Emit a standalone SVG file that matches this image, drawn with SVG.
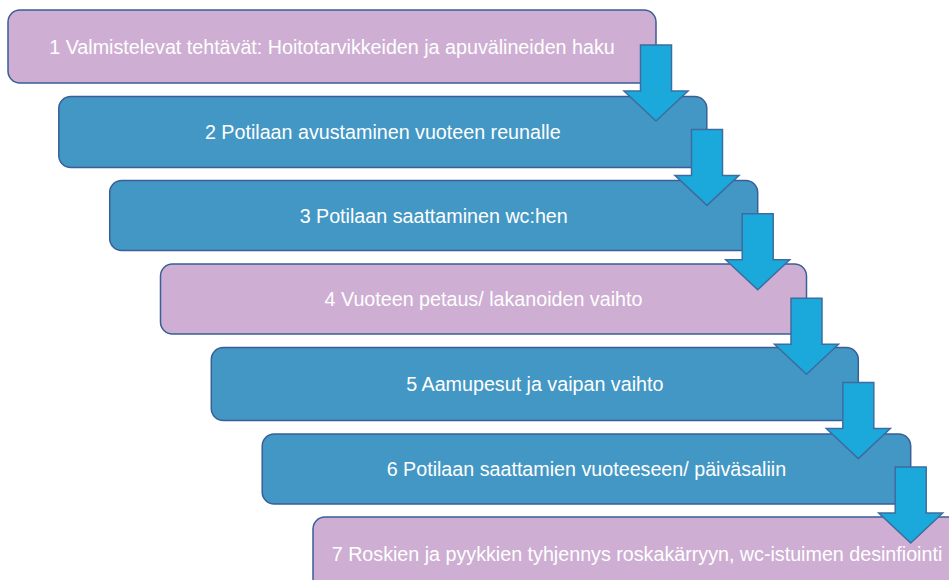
<svg xmlns="http://www.w3.org/2000/svg" width="949" height="580" viewBox="0 0 949 580">
  <style>
    .box { stroke: #3A5E96; stroke-width: 1.5; }
    .pink { fill: #CEAFD3; }
    .blue { fill: #4397C4; }
    .lbl { font-family: "Liberation Sans", Arial, sans-serif; font-size: 19.7px; fill: #FFFFFF; text-anchor: middle; }
    .arrow { fill: #1BA9DB; stroke: #3E6CA0; stroke-width: 1.5; stroke-linejoin: miter; }
  </style>
  <defs>
    <!-- down arrow, origin at the top centre of the shaft -->
    <path id="down" class="arrow" d="M -15.5 0 H 15.5 V 46 H 32 L 0 76 L -32 46 H -15.5 Z"/>
  </defs>
  <rect width="949" height="580" fill="#FFFFFF"/>

  <g id="step1">
    <rect class="box pink" x="8" y="10" width="648" height="73" rx="12"/>
    <text class="lbl" x="332" y="54">1 Valmistelevat tehtävät: Hoitotarvikkeiden ja apuvälineiden haku</text>
  </g>
  <g id="step2">
    <rect class="box blue" x="58.8" y="96.5" width="648" height="71" rx="12"/>
    <text class="lbl" x="382.8" y="139">2 Potilaan avustaminen vuoteen reunalle</text>
  </g>
  <g id="step3">
    <rect class="box blue" x="109.7" y="180.5" width="648" height="70" rx="12"/>
    <text class="lbl" x="433.7" y="223">3 Potilaan saattaminen wc:hen</text>
  </g>
  <g id="step4">
    <rect class="box pink" x="160.5" y="264" width="646" height="70" rx="12"/>
    <text class="lbl" x="483.5" y="306">4 Vuoteen petaus/ lakanoiden vaihto</text>
  </g>
  <g id="step5">
    <rect class="box blue" x="211.3" y="347.5" width="647" height="73" rx="12"/>
    <text class="lbl" x="534.8" y="391">5 Aamupesut ja vaipan vaihto</text>
  </g>
  <g id="step6">
    <rect class="box blue" x="262.2" y="434" width="648.5" height="70" rx="12"/>
    <text class="lbl" x="586.4" y="476">6 Potilaan saattamien vuoteeseen/ päiväsaliin</text>
  </g>
  <g id="step7">
    <rect class="box pink" x="313" y="517" width="648" height="73" rx="12"/>
    <text class="lbl" x="637" y="561">7 Roskien ja pyykkien tyhjennys roskakärryyn, wc-istuimen desinfiointi</text>
  </g>

  <g id="connectors">
    <use href="#down" x="656" y="45"/>
    <use href="#down" x="707" y="129.4"/>
    <use href="#down" x="757.7" y="213.8"/>
    <use href="#down" x="806.5" y="298.2"/>
    <use href="#down" x="858.3" y="382.6"/>
    <use href="#down" x="910.7" y="467"/>
  </g>
</svg>
